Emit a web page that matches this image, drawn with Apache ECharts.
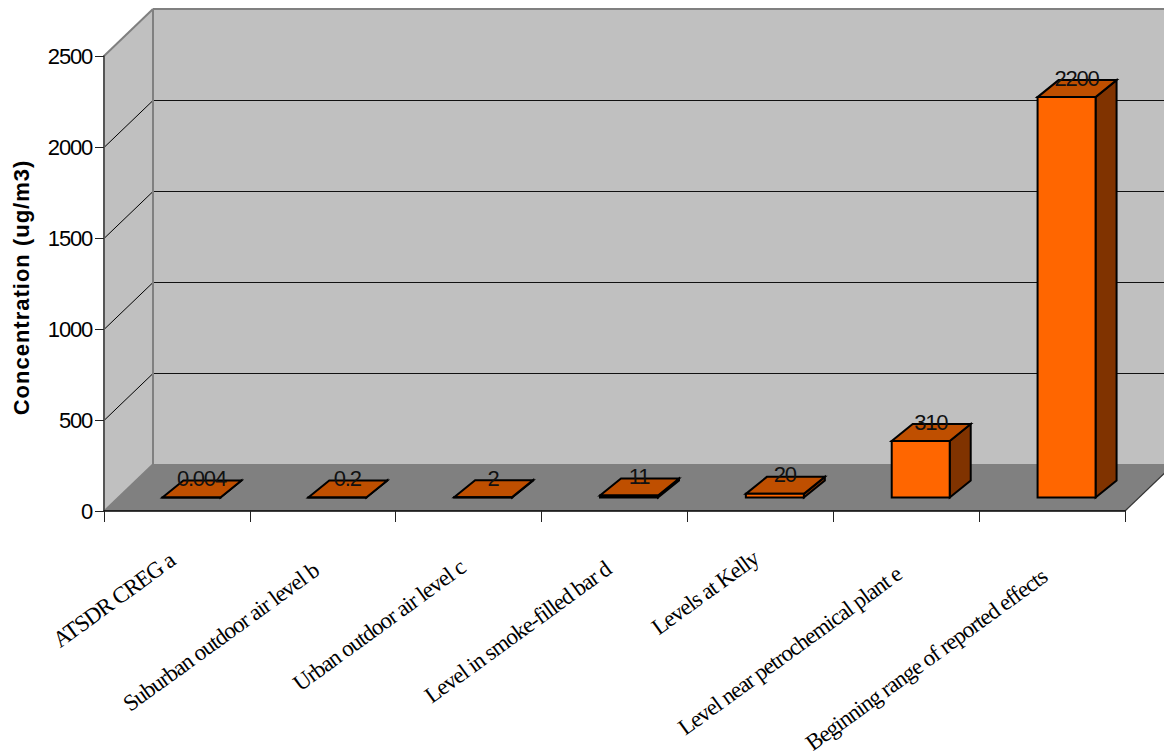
<!DOCTYPE html>
<html>
<head>
<meta charset="utf-8">
<style>
html,body{margin:0;padding:0;background:#fff;overflow:hidden}
#c{width:1164px;height:755px}
#c text{letter-spacing:-1.2px}
#c text[style*="Serif"]{letter-spacing:-1px}
#c text[style*="bold"]{letter-spacing:1px}
</style>
<script src="https://cdn.jsdelivr.net/npm/echarts@6/dist/echarts.min.js"></script>
</head>
<body>
<div id="c"></div>
<script>
const categories = [
  "ATSDR CREG a",
  "Suburban outdoor air level b",
  "Urban outdoor air level c",
  "Level in smoke-filled bar d",
  "Levels at Kelly",
  "Level near petrochemical plant e",
  "Beginning range of reported effects"
];
const values = [0.004, 0.2, 2, 11, 20, 310, 2200];
const valueTicks = [0, 500, 1000, 1500, 2000, 2500];
const axisTitle = "Concentration (ug/m3)";

// Oblique projection used to imitate the 3-D look, in pixels
const wallDepth = [49, -47];
const barDepth = [21, -17];
const barOffset = [14.5, -13.5];
const barWidth = 58;
const catFont = '23px "Liberation Serif"';
const labelAngle = 36;

const chart = echarts.init(document.getElementById('c'), null, {renderer: 'svg'});

const measure = document.createElement('canvas').getContext('2d');
measure.font = catFont;
function labelLength(name) {
  return measure.measureText(name).width - name.length;
}

function poly(points, fill, stroke, lw) {
  return {type: 'polygon', shape: {points},
    style: {fill, stroke: stroke || null, lineWidth: lw || 0, lineJoin: 'miter'}};
}
function line(a, b, stroke, lw) {
  return {type: 'line', shape: {x1: a[0], y1: a[1], x2: b[0], y2: b[1]},
    style: {stroke, lineWidth: lw, fill: null}};
}
function back(p) { return [p[0] + wallDepth[0], p[1] + wallDepth[1]]; }

function renderWalls(params, api) {
  const cs = params.coordSys;
  const left = cs.x, right = cs.x + cs.width;
  const y0 = api.coord([0, 0])[1];
  const yTop = api.coord([0, valueTicks[valueTicks.length - 1]])[1];
  const fl = [left, y0], fr = [right, y0], tl = [left, yTop], tr = [right, yTop];
  const children = [
    poly([back(fl), back(fr), back(tr), back(tl)], '#C0C0C0'),
    poly([fl, back(fl), back(tl), tl], '#C0C0C0'),
    poly([fl, fr, back(fr), back(fl)], '#808080')
  ];
  valueTicks.slice(1, -1).forEach(function (t) {
    const y = Math.round(api.coord([0, t])[1]) + 0.5;
    children.push(line([left, y], back([left, y]), '#000', 1));
    children.push(line(back([left, y]), back([right, y]), '#111', 1));
  });
  children.push(line(back(tl), back(tr), '#808080', 2));
  children.push(line(back(fl), back(tl), '#808080', 2));
  children.push(line(tl, back(tl), '#808080', 2));
  children.push(line(fl, back(fl), '#808080', 1.5));
  children.push(line(fr, back(fr), '#333', 1.2));
  return {type: 'group', children};
}

function renderBar(params, api) {
  const idx = api.value(0), v = api.value(1);
  const base = api.coord([idx, 0]);
  const top = api.coord([idx, v]);
  const x0 = base[0] + barOffset[0] - barWidth / 2;
  const x1 = x0 + barWidth;
  const yb = base[1] + barOffset[1];
  const yt = top[1] + barOffset[1];
  const dx = barDepth[0], dy = barDepth[1];
  const s = '#000', lw = 2;
  return {type: 'group', children: [
    poly([[x1, yb], [x1 + dx, yb + dy], [x1 + dx, yt + dy], [x1, yt]], '#803300', s, lw),
    poly([[x0, yt], [x1, yt], [x1 + dx, yt + dy], [x0 + dx, yt + dy]], '#BF4F00', s, lw),
    poly([[x0, yb], [x1, yb], [x1, yt], [x0, yt]], '#FF6600', s, lw),
    {type: 'text', z2: 50, style: {
      text: String(values[idx]),
      x: x0 + barWidth / 2 + 10, y: yt + dy - 2,
      align: 'center', verticalAlign: 'middle',
      font: '22px "Liberation Sans"', fill: '#111'
    }}
  ]};
}

// Category labels: longer labels sit further down and left of their tick in the reference
function renderCategoryLabel(params, api) {
  const idx = api.value(0);
  const base = api.coord([idx, 0]);
  const name = categories[idx];
  const len = labelLength(name);
  return {
    type: 'text',
    x: base[0] - 2 - 0.02 * len,
    y: base[1] + 31 + 0.11 * len,
    rotation: labelAngle * Math.PI / 180,
    style: {text: name, align: 'right', verticalAlign: 'middle', font: catFont, fill: '#000'}
  };
}

chart.setOption({
  animation: false,
  backgroundColor: '#fff',
  grid: {left: 104, right: 39, top: 56, bottom: 244, containLabel: false, outerBoundsMode: 'none'},
  xAxis: {
    type: 'category',
    data: categories,
    boundaryGap: true,
    axisLine: {show: true, lineStyle: {color: '#000', width: 1.5}},
    axisTick: {show: true, interval: 0, length: 11, alignWithLabel: false, lineStyle: {color: '#222', width: 1}},
    axisLabel: {show: false},
    splitLine: {show: false}
  },
  yAxis: {
    type: 'value',
    min: 0, max: 2500, interval: 500,
    name: axisTitle,
    nameLocation: 'middle',
    nameGap: 70,
    nameTextStyle: {fontFamily: 'Liberation Sans', fontWeight: 'bold', fontSize: 22, color: '#000', padding: [0, 8, 0, 0]},
    axisLine: {show: true, lineStyle: {color: '#555', width: 2}},
    axisTick: {show: true, length: 9, lineStyle: {color: '#222', width: 1}},
    axisLabel: {margin: 12, fontFamily: 'Liberation Sans', fontSize: 22, color: '#000',
      formatter: function (v) { return String(v); }},
    splitLine: {show: false}
  },
  series: [
    {type: 'custom', z: -1, silent: true, data: [[0, 0]],
      encode: {x: 0, y: 1}, renderItem: renderWalls},
    {type: 'custom', z: 3, silent: true,
      data: values.map(function (v, i) { return [i, v]; }),
      encode: {x: 0, y: 1}, renderItem: renderBar},
    {type: 'custom', z: 4, silent: true,
      data: categories.map(function (c, i) { return [i, 0]; }),
      encode: {x: 0, y: 1}, renderItem: renderCategoryLabel}
  ]
});
</script>
</body>
</html>
